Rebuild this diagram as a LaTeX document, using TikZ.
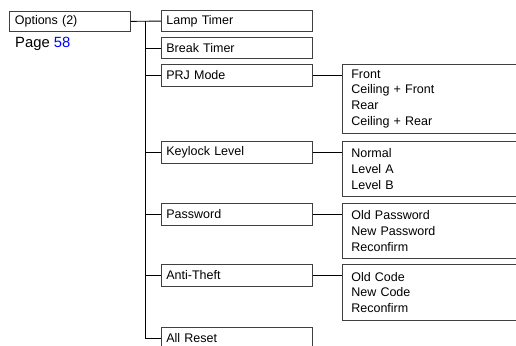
\documentclass[tikz,border=0pt]{standalone}
\usepackage{fontspec}
\setmainfont{Liberation Sans}
\begin{document}
\begin{tikzpicture}[x=1pt,y=-1pt,
  every node/.style={font=\fontsize{12.5}{15.8}\selectfont},
  optbox/.style={draw=black!75,line width=0.7pt,anchor=north west,minimum width=121pt,minimum height=20pt,text width=110pt,inner xsep=5.5pt,inner ysep=0pt,align=left},
  itembox/.style={draw=black!75,line width=0.7pt,anchor=north west,minimum width=151pt,minimum height=21.5pt,text width=141pt,inner xsep=5pt,inner ysep=0pt,align=left},
  listbox/.style={draw=black!75,line width=0.7pt,anchor=north west,minimum width=180pt,text width=162pt,inner xsep=9pt,inner ysep=0pt,align=left},
  conn/.style={line width=0.9pt,black}]
\useasboundingbox (0,0) rectangle (516,345);
\node[optbox] (opt) at (9,11) {Options (2)};
\node[anchor=west,inner sep=0pt,font=\fontsize{14.8}{17}\selectfont] (page) at (15,44) {Page \textcolor{blue}{58}};
\node[itembox] (lamp) at (161,10) {Lamp Timer};
\node[itembox] (brk) at (161,37) {Break Timer};
\node[itembox] (prj) at (161,64) {PRJ Mode};
\node[itembox] (key) at (161,141) {Keylock Level};
\node[itembox] (pwd) at (161,203) {Password};
\node[itembox] (anti) at (161,264) {Anti-Theft};
\node[itembox] (reset) at (161,327) {All Reset};
\node[listbox,minimum height=69pt] (prjl) at (342,64) {Front\\Ceiling + Front\\Rear\\Ceiling + Rear};
\node[listbox,minimum height=55pt] (keyl) at (342,141) {Normal\\Level A\\Level B};
\node[listbox,minimum height=55pt] (pwdl) at (342,203) {Old Password\\New Password\\Reconfirm};
\node[listbox,minimum height=56pt] (antil) at (342,264) {Old Code\\New Code\\Reconfirm};
\coordinate (t0) at (145,21);
\draw[conn] (opt.east) -- (lamp.west);
\draw[conn] (t0) |- (reset.west);
\foreach \b in {brk,prj,key,pwd,anti}{\draw[conn] (t0 |- \b.west) -- (\b.west);}
\draw[conn] (prj.east) -- (prj.east -| prjl.west);
\draw[conn] (key.east) -- (key.east -| keyl.west);
\draw[conn] (pwd.east) -- (pwd.east -| pwdl.west);
\draw[conn] (anti.east) -- (anti.east -| antil.west);
\end{tikzpicture}
\end{document}
